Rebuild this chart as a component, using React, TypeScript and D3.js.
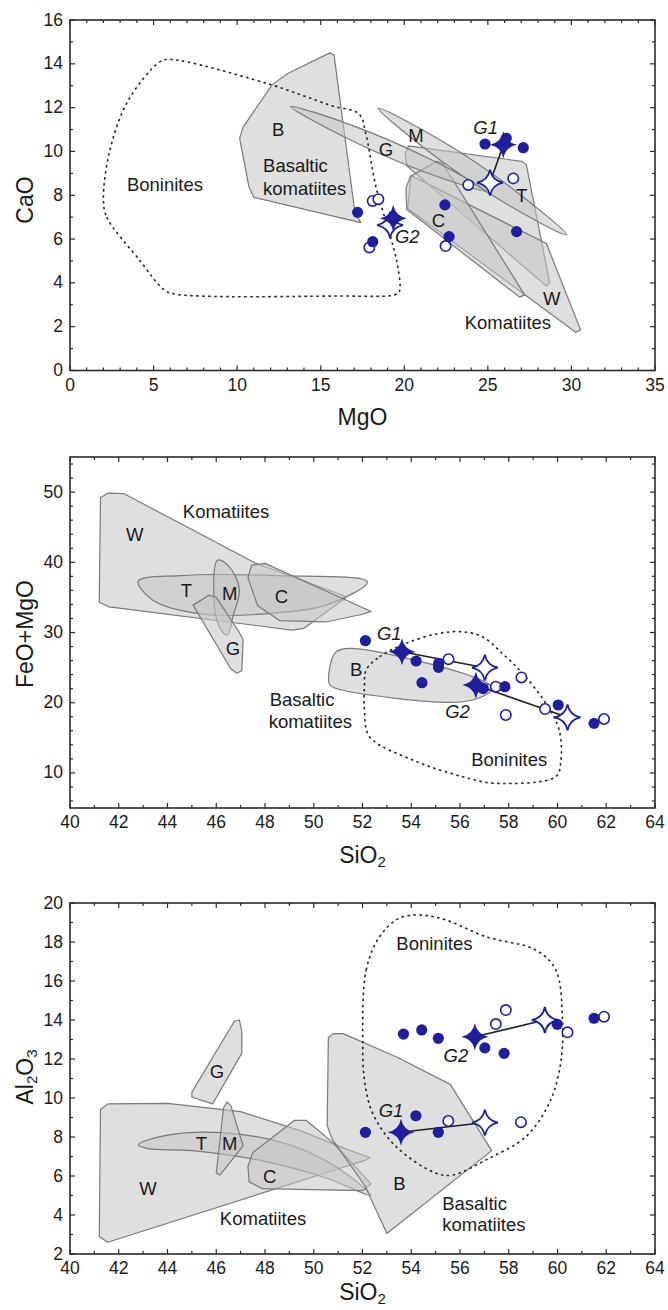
import React from "react";
import * as d3 from "d3";

const BLUE = "#1e1e9e";
const FONT = "'Liberation Sans', Arial, Helvetica, sans-serif";

// ---------- panel 1 : MgO vs CaO ----------
const p1Filled = [[24.83, 10.34], [27.12, 10.17], [26.1, 10.6], [26.72, 6.34], [22.43, 7.56], [22.68, 6.11], [17.21, 7.22], [18.11, 5.88]];
const p1Open = [[23.83, 8.47], [26.52, 8.77], [22.47, 5.68], [18.11, 7.74], [18.45, 7.82], [17.91, 5.62]];
const p1StarFilled = [[25.93, 10.3], [19.34, 6.95]];
const p1StarOpen = [[25.13, 8.58], [19.15, 6.64]];
const p1GroupLabels = [["G1", 24.87, 11.1], ["G2", 20.18, 6.11]];

const p1Fields = [
  { name: "B", smooth: false, pts: [[15.55, 14.5], [15.8, 14.4], [16.3, 11.5], [17.05, 7.2], [17.4, 6.75], [11.0, 7.9], [10.7, 8.4], [10.15, 10.6], [10.35, 11.1], [12.1, 13.05], [13, 13.55]] },
  { name: "T", smooth: false, pts: [[20.25, 10.25], [27.0, 9.55], [27.3, 9.4], [28.7, 4.0], [28.5, 3.85], [20.15, 9.35], [20.05, 9.9]] },
  { name: "W", smooth: false, pts: [[20.4, 8.9], [28.5, 5.8], [30.55, 1.85], [30.25, 1.75], [20.2, 7.4]] },
  { name: "C", smooth: false, pts: [[20.35, 8.85], [21.95, 9.55], [22.3, 9.45], [27.2, 3.45], [26.9, 3.35], [20.15, 7.35], [20.1, 8.3]] },
  { name: "G", smooth: true, pts: [[13.2, 12.05], [16.88, 11.19], [21.56, 9.64], [24.9, 8.2], [21.22, 9.06], [16.54, 10.61]] },
  { name: "M", smooth: true, pts: [[18.45, 11.97], [22.1, 10.54], [26.61, 8.22], [29.72, 6.19], [26.07, 7.62], [21.56, 9.94]] },
];
const p1Boninites = [[2.0, 7.8], [2.2, 7.0], [4.2, 5.0], [5.6, 3.7], [6.2, 3.5], [16.2, 3.4], [19.4, 3.45], [19.7, 3.6], [19.6, 4.8], [19.1, 6.3], [18.3, 8.4], [17.7, 10.8], [17.3, 11.7], [15.6, 12.1], [11.8, 13.1], [6.0, 14.2], [5.4, 14.1], [3.5, 12.35], [2.4, 10.1]];
const p1Labels = [
  ["Boninites", 5.68, 8.47, "middle"], ["B", 12.46, 10.98, "middle"],
  ["Basaltic", 11.55, 9.35, "start"], ["komatiites", 11.55, 8.29, "start"],
  ["M", 20.7, 10.75, "middle"], ["G", 18.9, 10.07, "middle"], ["T", 27.02, 8.01, "middle"],
  ["C", 22.04, 6.87, "middle"], ["W", 28.82, 3.3, "middle"], ["Komatiites", 26.2, 2.18, "middle"],
];

// ---------- panel 2 : SiO2 vs FeO+MgO ----------
const p2Filled = [[52.12, 28.83], [54.2, 25.94], [55.12, 25.6], [55.12, 25.04], [54.44, 22.85], [56.95, 22.0], [57.84, 22.28], [60.03, 19.67], [61.5, 17.06]];
const p2Open = [[55.53, 26.2], [57.47, 22.28], [58.52, 23.6], [57.88, 18.25], [59.49, 19.1], [61.91, 17.68]];
const p2StarFilled = [[53.62, 27.26], [56.65, 22.52]];
const p2StarOpen = [[57.02, 24.99], [60.41, 17.92]];
const p2GroupLabels = [["G1", 53.1, 29.9], ["G2", 55.9, 18.7]];

const p2Fields = [
  { name: "W", smooth: false, pts: [[41.2, 34.3], [41.25, 49.2], [41.55, 49.85], [42.2, 49.8], [47.6, 39.9], [51.2, 35.3], [51.3, 34.9], [49.6, 30.6], [49.1, 30.35], [41.6, 33.65]] },
  { name: "T", smooth: true, pts: [[42.8, 37.3], [44.5, 38.1], [48.5, 38.1], [52.2, 37.2], [50.6, 34.0], [48.5, 32.8], [45.5, 32.6], [43.4, 34.6]] },
  { name: "C", smooth: false, pts: [[47.3, 37.8], [47.45, 39.6], [48.0, 39.85], [52.35, 33.0], [52.0, 32.6], [50.5, 31.5], [48.6, 31.7], [47.7, 33.8]] },
  { name: "M", smooth: true, pts: [[46.05, 40.3], [46.5, 39.5], [46.95, 36.2], [46.7, 32.5], [46.45, 29.6], [46.1, 31.0], [45.9, 35.5]] },
  { name: "G", smooth: false, pts: [[45.05, 33.9], [45.7, 35.3], [46.0, 35.0], [46.95, 30.0], [47.1, 29.0], [47.05, 24.6], [46.85, 24.2], [46.6, 24.8]] },
  { name: "B", smooth: true, pts: [[50.65, 24.9], [50.9, 27.2], [51.5, 27.75], [56.6, 23.6], [57.35, 22.1], [57.1, 21.2], [56.0, 20.1], [51.0, 21.95], [50.65, 22.6]] },
];
const p2Boninites = [[52.15, 24.66], [52.7, 26.55], [53.79, 28.46], [55.15, 29.88], [56.1, 30.1], [56.92, 29.4], [57.74, 27.0], [58.56, 24.2], [59.52, 19.9], [60.07, 16.1], [60.13, 11.4], [59.93, 9.46], [57.47, 8.52], [56.1, 9.46], [54.06, 11.84], [52.29, 15.16], [52.08, 18.96], [52.08, 22.28]];
const p2Labels = [
  ["Komatiites", 46.4, 47.2, "middle"], ["W", 42.66, 43.9, "middle"], ["T", 44.78, 36.05, "middle"],
  ["M", 46.55, 35.6, "middle"], ["C", 48.67, 35.1, "middle"], ["G", 46.69, 27.75, "middle"],
  ["B", 51.74, 24.66, "middle"], ["Basaltic", 48.19, 20.4, "start"], ["komatiites", 48.15, 17.29, "start"],
  ["Boninites", 58.02, 11.84, "middle"],
];

// ---------- panel 3 : SiO2 vs Al2O3 ----------
const p3Filled = [[53.68, 13.28], [54.43, 13.49], [55.11, 13.06], [57.02, 12.57], [57.81, 12.29], [59.99, 13.78], [61.5, 14.09], [52.12, 8.24], [54.19, 9.09], [55.11, 8.24]];
const p3Open = [[57.47, 13.79], [57.88, 14.51], [60.41, 13.37], [61.91, 14.17], [55.52, 8.82], [58.5, 8.76]];
const p3StarFilled = [[53.58, 8.24], [56.61, 13.14]];
const p3StarOpen = [[57.02, 8.74], [59.48, 14.0]];
const p3GroupLabels = [["G1", 53.17, 9.38], ["G2", 55.83, 12.17]];

const p3Fields = [
  { name: "W", smooth: false, pts: [[41.2, 2.9], [41.25, 9.4], [41.55, 9.7], [44, 9.72], [47, 9.3], [49.5, 8.3], [51.5, 7.3], [52.3, 6.95], [52.1, 6.8], [41.55, 2.6]] },
  { name: "T", smooth: true, pts: [[42.8, 7.6], [44, 8.1], [46.5, 8.2], [49, 7.6], [51, 6.4], [52.35, 5.0], [50.5, 5.9], [48, 6.75], [45, 7.3], [43.2, 7.4]] },
  { name: "C", smooth: false, pts: [[47.3, 6.5], [47.5, 7.2], [49.2, 8.85], [49.7, 8.85], [50.8, 7.7], [52.35, 5.6], [52.0, 5.25], [47.9, 5.35], [47.35, 5.7]] },
  { name: "M", smooth: false, pts: [[46.0, 6.15], [46.3, 9.5], [46.45, 9.8], [46.6, 9.6], [47.1, 7.55], [46.15, 6.05]] },
  { name: "G", smooth: false, pts: [[45.0, 10.3], [46.75, 13.95], [46.95, 14.0], [47.05, 13.4], [47.05, 12.3], [45.85, 9.7], [45.0, 10.05]] },
  { name: "B", smooth: false, pts: [[50.55, 8.6], [50.6, 13.1], [50.8, 13.3], [51.2, 13.3], [53.4, 12.1], [55.6, 10.7], [57.3, 7.3], [53.0, 3.05], [52.1, 5.5], [50.75, 7.9]] },
];
const p3Boninites = [[52.01, 12.97], [52.15, 16.56], [52.7, 18.27], [53.51, 19.22], [54.4, 19.38], [55.42, 19.13], [57.06, 18.27], [59.11, 17.59], [59.93, 16.56], [60.2, 14.17], [60.13, 11.78], [59.66, 9.73], [58.7, 8.02], [57.06, 6.82], [55.7, 6.05], [55.02, 6.14], [53.38, 7.5], [52.42, 9.21], [52.08, 10.92]];
const p3Labels = [
  ["Boninites", 54.95, 17.93, "middle"], ["G", 46.03, 11.35, "middle"], ["T", 45.39, 7.67, "middle"],
  ["M", 46.55, 7.67, "middle"], ["C", 48.19, 5.96, "middle"], ["W", 43.2, 5.37, "middle"],
  ["Komatiites", 47.92, 3.83, "middle"], ["B", 53.51, 5.63, "middle"],
  ["Basaltic", 55.27, 4.6, "start"], ["komatiites", 55.27, 3.49, "start"],
];

const starPath = (R: number) => {
  const k = R * 0.16;
  return `M0,${-R}Q${k},${-k} ${R},0Q${k},${k} 0,${R}Q${-k},${k} ${-R},0Q${-k},${-k} 0,${-R}Z`;
};

const Panel = (props: any) => {
  const { xs, ys, xMajor, xMinor, yMajor, yMinor, fields, boninites, labels, filled, open, starF, starO, groups, xTitle, yTitle, yTitleY } = props;
  const [x0, x1] = xs.range();
  const [y0, y1] = ys.range();
  const line = (smooth: boolean) =>
    d3.line<number[]>()
      .x((d) => xs(d[0]))
      .y((d) => ys(d[1]))
      .curve(smooth ? d3.curveCatmullRomClosed.alpha(0.5) : d3.curveLinearClosed);

  return (
    <g fontFamily={FONT}>
      {fields.map((f: any) => (
        <path key={f.name} d={line(f.smooth)(f.pts) || ""} fill="#c4c4c4" fillOpacity={0.55} stroke="#7a7a7a" strokeWidth={1.2} strokeLinejoin="round" />
      ))}
      <path d={line(true)(boninites) || ""} fill="none" stroke="#222" strokeWidth={1.6} strokeDasharray="2.5,3.5" />
      {labels.map((l: any, i: number) => (
        <text key={i} x={xs(l[1])} y={ys(l[2])} textAnchor={l[3]} dominantBaseline="central" fontSize={18.5} fill="#1a1a1a">{l[0]}</text>
      ))}
      {starF.map((s: number[], i: number) => (
        <line key={i} x1={xs(s[0])} y1={ys(s[1])} x2={xs(starO[i][0])} y2={ys(starO[i][1])} stroke="#222" strokeWidth={1.6} />
      ))}
      {open.map((p: number[], i: number) => (
        <circle key={i} cx={xs(p[0])} cy={ys(p[1])} r={5.2} fill="#fff" stroke={BLUE} strokeWidth={1.6} />
      ))}
      {filled.map((p: number[], i: number) => (
        <circle key={i} cx={xs(p[0])} cy={ys(p[1])} r={5.6} fill={BLUE} />
      ))}
      {starO.map((s: number[], i: number) => (
        <path key={i} d={starPath(13)} transform={`translate(${xs(s[0])},${ys(s[1])})`} fill="#fff" stroke={BLUE} strokeWidth={1.8} />
      ))}
      {starF.map((s: number[], i: number) => (
        <path key={i} d={starPath(13.5)} transform={`translate(${xs(s[0])},${ys(s[1])})`} fill={BLUE} />
      ))}
      {groups.map((g: any, i: number) => (
        <text key={i} x={xs(g[1])} y={ys(g[2])} textAnchor="middle" dominantBaseline="central" fontSize={18.5} fontStyle="italic" fill="#1a1a1a">{g[0]}</text>
      ))}
      {/* frame + ticks */}
      <rect x={x0} y={y1} width={x1 - x0} height={y0 - y1} fill="none" stroke="#2b2b2b" strokeWidth={1.6} />
      {xMinor.map((v: number) => {
        const L = xMajor.includes(v) ? 5 : 3;
        return (
          <g key={"x" + v}>
            <line x1={xs(v)} x2={xs(v)} y1={y0} y2={y0 - L} stroke="#2b2b2b" strokeWidth={1.2} />
            <line x1={xs(v)} x2={xs(v)} y1={y1} y2={y1 + L} stroke="#2b2b2b" strokeWidth={1.2} />
          </g>
        );
      })}
      {yMinor.map((v: number) => {
        const L = yMajor.includes(v) ? 5 : 3;
        return (
          <g key={"y" + v}>
            <line x1={x0} x2={x0 + L} y1={ys(v)} y2={ys(v)} stroke="#2b2b2b" strokeWidth={1.2} />
            <line x1={x1} x2={x1 - L} y1={ys(v)} y2={ys(v)} stroke="#2b2b2b" strokeWidth={1.2} />
          </g>
        );
      })}
      {xMajor.map((v: number) => (
        <text key={"xl" + v} x={xs(v)} y={y0 + 20} textAnchor="middle" fontSize={17.5} fill="#1a1a1a">{v}</text>
      ))}
      {yMajor.map((v: number) => (
        <text key={"yl" + v} x={x0 - 7} y={ys(v) + 5.5} textAnchor="end" fontSize={17.5} fill="#1a1a1a">{v}</text>
      ))}
      <text x={(x0 + x1) / 2} y={y0 + xTitle.dy} textAnchor="middle" fontSize={23} fill="#1a1a1a">
        {xTitle.parts.map((p: any, i: number) => p.sub
          ? <tspan key={i} fontSize={15} dy={4}>{p.t}</tspan>
          : <tspan key={i} dy={i > 0 ? -4 : 0}>{p.t}</tspan>)}
      </text>
      <text transform={`translate(33,${yTitleY}) rotate(-90)`} textAnchor="middle" fontSize={23} fill="#1a1a1a">
        {yTitle.map((p: any, i: number) => p.sub
          ? <tspan key={i} fontSize={15} dy={4}>{p.t}</tspan>
          : <tspan key={i} dy={i > 0 && yTitle[i - 1].sub ? -4 : 0}>{p.t}</tspan>)}
      </text>
    </g>
  );
};

export default function App() {
  const x1 = d3.scaleLinear().domain([0, 35]).range([70, 655]);
  const y1 = d3.scaleLinear().domain([0, 16]).range([370.5, 20]);
  const x2 = d3.scaleLinear().domain([40, 64]).range([70, 655]);
  const y2 = d3.scaleLinear().domain([5, 55]).range([808, 457]);
  const x3 = d3.scaleLinear().domain([40, 64]).range([70, 655]);
  const y3 = d3.scaleLinear().domain([2, 20]).range([1254, 903]);

  return (
    <svg width={668} height={1310} style={{ position: "absolute", left: 0, top: 0, background: "#fff" }}>
      <Panel xs={x1} ys={y1}
        xMajor={d3.range(0, 36, 5)} xMinor={d3.range(0, 36, 1)}
        yMajor={d3.range(0, 17, 2)} yMinor={d3.range(0, 17, 1)}
        fields={p1Fields} boninites={p1Boninites} labels={p1Labels}
        filled={p1Filled} open={p1Open} starF={p1StarFilled} starO={p1StarOpen} groups={p1GroupLabels}
        xTitle={{ dy: 54, parts: [{ t: "MgO" }] }} yTitle={[{ t: "CaO" }]} yTitleY={200} />
      <Panel xs={x2} ys={y2}
        xMajor={d3.range(40, 65, 2)} xMinor={d3.range(40, 65, 1)}
        yMajor={d3.range(10, 51, 10)} yMinor={d3.range(6, 55, 2)}
        fields={p2Fields} boninites={p2Boninites} labels={p2Labels}
        filled={p2Filled} open={p2Open} starF={p2StarFilled} starO={p2StarOpen} groups={p2GroupLabels}
        xTitle={{ dy: 55, parts: [{ t: "SiO" }, { t: "2", sub: true }] }} yTitle={[{ t: "FeO+MgO" }]} yTitleY={634} />
      <Panel xs={x3} ys={y3}
        xMajor={d3.range(40, 65, 2)} xMinor={d3.range(40, 65, 1)}
        yMajor={d3.range(2, 21, 2)} yMinor={d3.range(2, 21, 1)}
        fields={p3Fields} boninites={p3Boninites} labels={p3Labels}
        filled={p3Filled} open={p3Open} starF={p3StarFilled} starO={p3StarOpen} groups={p3GroupLabels}
        xTitle={{ dy: 46, parts: [{ t: "SiO" }, { t: "2", sub: true }] }}
        yTitle={[{ t: "Al" }, { t: "2", sub: true }, { t: "O" }, { t: "3", sub: true }]} yTitleY={1077} />
    </svg>
  );
}
